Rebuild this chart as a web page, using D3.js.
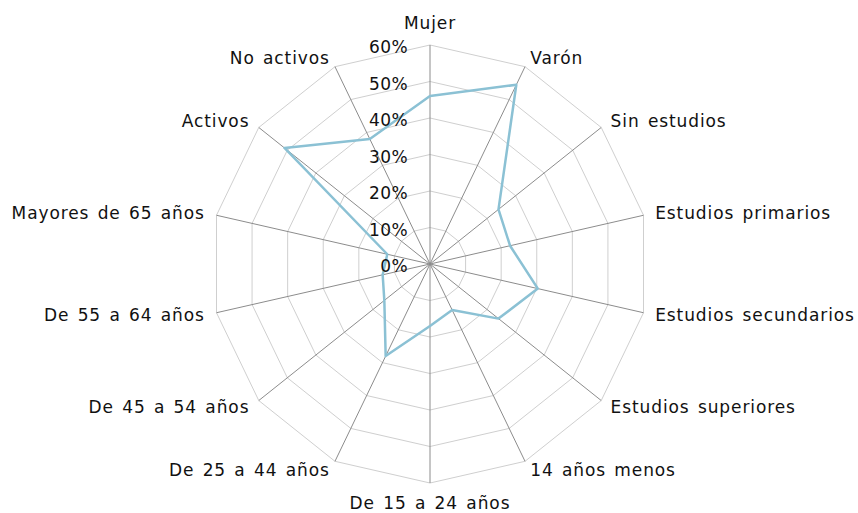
<!DOCTYPE html>
<html><head><meta charset="utf-8">
<script src="https://cdn.jsdelivr.net/npm/d3@7"></script>
<style>body{margin:0;background:#fff}svg{display:block}</style>
</head><body>
<script>
const categories = ["Mujer","Varón","Sin estudios","Estudios primarios","Estudios secundarios","Estudios superiores","14 años menos","De 15 a 24 años","De 25 a 44 años","De 45 a 54 años","De 55 a 64 años","Mayores de 65 años","Activos","No activos"];
const values = [46, 54.5, 24, 22.5, 30.3, 24, 14, 17, 28, 16, 13.3, 12, 51, 38];
const tickValues = [0, 10, 20, 30, 40, 50, 60];

const W = 858, H = 513, cx = 430, cy = 264, R = 219;
const svg = d3.select("body").append("svg").attr("width", W).attr("height", H);
const r = d3.scaleLinear().domain([0, 60]).range([0, R]);
const ang = d3.scaleLinear().domain([0, categories.length]).range([0, 2 * Math.PI]);
const g = svg.append("g").attr("transform", `translate(${cx},${cy})`);
const pt = (i, v) => [r(v) * Math.sin(ang(i)), -r(v) * Math.cos(ang(i))];
const font = "DejaVu Sans, Verdana, sans-serif";

// rings
g.selectAll(".ring").data(tickValues.slice(1)).join("polygon")
  .attr("points", t => categories.map((c, i) => pt(i, t).join(",")).join(" "))
  .attr("fill", "none").attr("stroke", "#cfcfcf").attr("stroke-width", 1);
// spokes
g.selectAll(".spoke").data(categories).join("line")
  .attr("x1", 0).attr("y1", 0)
  .attr("x2", (c, i) => pt(i, 60)[0]).attr("y2", (c, i) => pt(i, 60)[1])
  .attr("stroke", "#8c8c8c").attr("stroke-width", 1);

// series
const line = d3.line().curve(d3.curveLinearClosed);
g.append("path").attr("d", line(values.map((v, i) => pt(i, v))))
  .attr("fill", "none").attr("stroke", "#8bc1d4").attr("stroke-width", 2.5)
  .attr("stroke-linejoin", "round");

// tick labels
g.selectAll(".tick").data(tickValues).join("text")
  .attr("x", -22).attr("y", t => -r(t) + 2)
  .attr("text-anchor", "end").attr("dominant-baseline", "central")
  .attr("font-family", font).attr("font-size", 17).attr("fill", "#111")
  .attr("letter-spacing", 0.4)
  .text(t => t + "%");

// category labels
g.selectAll(".lab").data(categories).join("text")
  .each(function (c, i) {
    const a = ang(i), s = Math.sin(a), co = Math.cos(a);
    const [x, y] = pt(i, 60);
    let anchor = Math.abs(s) < 0.01 ? "middle" : (s > 0 ? "start" : "end");
    let dy = -co * 10;
    if (anchor === "middle") dy = co > 0 ? -22 : 20;
    d3.select(this).attr("x", x + s * 12).attr("y", y + dy)
      .attr("text-anchor", anchor).attr("dominant-baseline", "central");
  })
  .attr("font-family", font).attr("font-size", 17).attr("fill", "#111")
  .attr("letter-spacing", 0.9).attr("word-spacing", 2)
  .text(c => c);
</script>
</body></html>
